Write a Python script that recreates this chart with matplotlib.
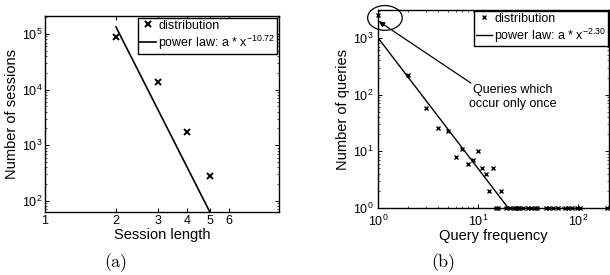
import matplotlib
matplotlib.use('Agg')
import matplotlib.pyplot as plt
from matplotlib.patches import Ellipse
from matplotlib.ticker import FixedLocator, FixedFormatter, LogLocator, NullFormatter

plt.rcParams['font.family'] = ['Liberation Sans', 'DejaVu Sans']
plt.rcParams['mathtext.fontset'] = 'custom'
plt.rcParams['mathtext.rm'] = 'Liberation Sans'
plt.rcParams['mathtext.it'] = 'Liberation Sans:italic'
plt.rcParams['mathtext.bf'] = 'Liberation Sans:bold'

# (a) session length distribution
sess_len = [2, 3, 4, 5]
sess_count = [88000, 13900, 1750, 280]
fit_a_x = [2, 5]
fit_a_y = [133000, 63]
sess_ticks = [1, 2, 3, 4, 5, 6]

# (b) query frequency distribution
q_freq = [1, 2, 3, 4, 5, 6, 7, 8, 9, 10, 11, 12, 13, 14, 17,
          15, 16, 19, 21, 23, 24, 25, 26, 28, 32, 34, 37, 39, 48, 52,
          57, 64, 74, 80, 88, 97, 105, 194]
q_count = [2500, 219, 57, 26, 23, 8, 11, 6, 7, 10, 5, 4, 2, 5, 2,
           1, 1, 1, 1, 1, 1, 1, 1, 1, 1, 1, 1, 1, 1, 1,
           1, 1, 1, 1, 1, 1, 1, 1]
fit_b_x = [1, 20.1]
fit_b_y = [1000, 1.0]

fig = plt.figure(figsize=(6.1, 2.75), dpi=100)
ax1 = fig.add_axes([0.0738, 0.229, 0.3832, 0.713])
ax2 = fig.add_axes([0.6197, 0.2436, 0.3783, 0.72])

leg_kw = dict(loc='upper right', fontsize=9, frameon=True, fancybox=False,
              edgecolor='black', framealpha=1, borderpad=0.15, handlelength=1.3,
              handletextpad=0.15, labelspacing=0.15)

ax1.plot(sess_len, sess_count, 'kx', ms=5, mew=1.4, label='distribution')
ax1.plot(fit_a_x, fit_a_y, 'k-', lw=1.2, label='power law: a * x$^{-10.72}$')
ax1.set_xscale('log')
ax1.set_yscale('log')
ax1.set_xlim(1, 9.8)
ax1.set_ylim(63, 2.1e5)
ax1.xaxis.set_major_locator(FixedLocator(sess_ticks))
ax1.xaxis.set_major_formatter(FixedFormatter([str(t) for t in sess_ticks]))
ax1.xaxis.set_minor_locator(FixedLocator([]))
ax1.set_xlabel('Session length', fontsize=10.5, labelpad=1)
ax1.set_ylabel('Number of sessions', fontsize=10.5, labelpad=2)
ax1.legend(borderaxespad=0.15, **leg_kw)

ax2.plot(q_freq, q_count, 'kx', ms=3.5, mew=1.0, clip_on=False, label='distribution')
ax2.plot(fit_b_x, fit_b_y, 'k-', lw=1.0, label='power law: a * x$^{-2.30}$')
ax2.set_xscale('log')
ax2.set_yscale('log')
ax2.set_xlim(1, 204)
ax2.set_ylim(1, 3100)
ax2.set_xlabel('Query frequency', fontsize=10.5, labelpad=0)
ax2.set_ylabel('Number of queries', fontsize=10.5, labelpad=2)
ax2.legend(borderaxespad=0.05, **leg_kw)

# circle around the single-occurrence queries
ell = Ellipse((0.03, 0.96), 0.15, 0.125, transform=ax2.transAxes,
              fill=False, ec='black', lw=0.9, clip_on=False)
ax2.add_patch(ell)
ax2.annotate('', xy=(1.02, 1950), xytext=(8.5, 160),
             arrowprops=dict(arrowstyle='-|>', color='black', lw=0.9,
                             shrinkA=0, shrinkB=0, mutation_scale=8))
ax2.text(0.585, 0.56, 'Queries which\noccur only once', transform=ax2.transAxes,
         ha='center', va='center', fontsize=9, linespacing=1.15)

for ax in (ax1, ax2):
    ax.tick_params(which='both', direction='in', top=True, right=True,
                   labelsize=9, pad=2)
    ax.tick_params(which='major', length=3, width=0.7)
    ax.tick_params(which='minor', length=1.5, width=0.5)
    ax.yaxis.set_minor_locator(LogLocator(base=10, subs=range(2, 10), numticks=20))
    ax.yaxis.set_minor_formatter(NullFormatter())
    for s in ax.spines.values():
        s.set_linewidth(1.0)
ax2.xaxis.set_minor_locator(LogLocator(base=10, subs=range(2, 10), numticks=20))
ax2.xaxis.set_minor_formatter(NullFormatter())
ax2.tick_params(axis='x', pad=4)
ax2.tick_params(axis='y', pad=3)

fig.text(0.189, 0.045, '(a)', fontsize=13, family='cmr10', ha='center', va='center')
fig.text(0.726, 0.045, '(b)', fontsize=13, family='cmr10', ha='center', va='center')

fig.savefig('out.png', dpi=100)
